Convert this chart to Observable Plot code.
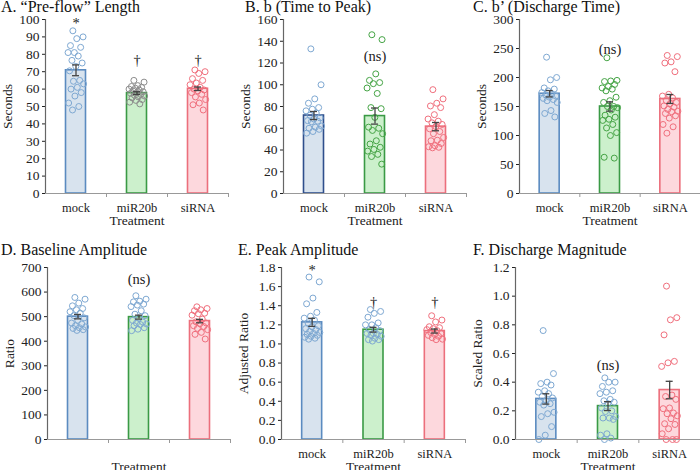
<!DOCTYPE html>
<html><head><meta charset="utf-8">
<script src="https://cdn.jsdelivr.net/npm/d3@7"></script>
<script src="https://cdn.jsdelivr.net/npm/@observablehq/plot@0.6"></script>
<style>
body{margin:0;background:#fff;}
#fig{position:relative;width:700px;height:470px;font-family:"Liberation Serif","Times New Roman",serif;overflow:hidden;}
.panel{position:absolute;width:234px;height:235px;}
.panel svg{position:absolute;left:0;top:0;overflow:visible;}
.title{position:absolute;font-size:16px;white-space:nowrap;line-height:0.8;color:#111;z-index:2;}
#fig svg, #fig svg text{font-family:"Liberation Serif","Times New Roman",serif !important;}
</style></head><body><div id="fig"></div>
<script>
// ---------- categories ----------
const categories = ["mock", "miR20b", "siRNA"];

// ---------- A. "Pre-flow" Length (Seconds) ----------
const aMock = [93.5, 90, 89, 85, 84, 81, 81, 79, 76.5, 75, 73, 70.5, 65, 64.5, 63, 61, 60, 58, 56, 52, 50, 48];
const aMir = [65, 64, 62, 61.5, 61, 60.5, 60, 59.5, 59, 58.5, 58, 57.5, 57, 56.5, 56, 55.5, 55, 54, 53.5, 52.5, 51.5];
const aSi = [71, 70, 69, 66, 65, 63.5, 62.5, 61, 60, 59.5, 59, 58, 57, 55.5, 54, 52, 51, 48];
const aMeans = [70.8, 57.7, 60.2];
const aSE = [3.1, 0.8, 1.0];
const aTicks = [0, 10, 20, 30, 40, 50, 60, 70, 80, 90, 100];
const aNotes = ["*", "†", "†"];
const aNoteY = [97.5, 76.5, 76.5];

// ---------- B. b (Time to Peak) (Seconds) ----------
const bMock = [133, 100, 87, 83, 79, 77.5, 76, 74, 72, 69.5, 68.5, 67, 66.5, 66, 62, 61, 60, 59, 57, 55.5];
const bMir = [146, 141.5, 110, 104, 102, 101, 97, 92, 79, 78, 70, 61, 60, 58, 55, 48.5, 45.5, 42.5, 40.5, 39, 36, 34, 27];
const bSi = [95.5, 87, 83, 80.5, 79, 72.5, 68.5, 66.5, 65, 63.5, 61.5, 59.5, 57, 55, 51.5, 49, 48.5, 46, 44, 43, 42.5, 42];
const bMeans = [71.7, 71.2, 61.5];
const bSE = [3.7, 7.4, 3.8];
const bTicks = [0, 20, 40, 60, 80, 100, 120, 140, 160];
const bNotes = ["", "(ns)", ""];
const bNoteY = [0, 126, 0];

// ---------- C. b' (Discharge Time) (Seconds) ----------
const cMock = [235, 200, 196, 182, 180, 177, 174, 172, 170, 168, 166, 164, 162, 160, 157, 143, 138, 132];
const cMir = [234, 195, 194, 193, 188, 184.5, 182, 180, 177, 166, 160, 157, 150, 150, 148, 144, 135, 131.5, 128, 126, 119, 113, 105, 100, 62.5, 61];
const cSi = [238, 236, 227, 225, 210, 171, 168, 165, 160, 157, 155, 151, 149, 145, 142, 141, 138, 134, 130, 119, 115, 104];
const cMeans = [172, 150, 163];
const cSE = [5.5, 8, 7.7];
const cTicks = [0, 50, 100, 150, 200, 250, 300];
const cNotes = ["", "(ns)", ""];
const cNoteY = [0, 248, 0];

// ---------- D. Baseline Amplitude (Ratio) ----------
const dMock = [578, 571, 555, 544, 533, 528, 520, 514, 504, 495, 485, 474, 470, 463, 458, 455, 452, 447, 444];
const dMir = [585, 571, 563, 560, 551, 547, 541, 524, 510, 504, 493, 485, 478, 474, 470, 468, 463, 455, 449, 443];
const dSi = [540, 533, 528, 524, 514, 512, 506, 490, 479, 474, 471, 463, 460, 452, 447, 436, 428, 409];
const dMeans = [500, 498, 482];
const dSE = [9, 8, 7];
const dTicks = [0, 100, 200, 300, 400, 500, 600, 700];
const dNotes = ["", "(ns)", ""];
const dNoteY = [0, 650, 0];

// ---------- E. Peak Amplitude (Adjusted Ratio) ----------
const eMock = [1.70, 1.65, 1.48, 1.42, 1.33, 1.29, 1.27, 1.25, 1.22, 1.19, 1.18, 1.16, 1.15, 1.13, 1.12, 1.11, 1.10, 1.09, 1.08, 1.07, 1.06, 1.05];
const eMir = [1.36, 1.34, 1.32, 1.28, 1.22, 1.20, 1.20, 1.17, 1.15, 1.14, 1.11, 1.11, 1.10, 1.09, 1.08, 1.06, 1.045, 1.045, 1.03];
const eSi = [1.295, 1.25, 1.23, 1.18, 1.17, 1.16, 1.15, 1.14, 1.12, 1.11, 1.10, 1.09, 1.08, 1.065, 1.05, 1.045];
const eMeans = [1.226, 1.149, 1.135];
const eSE = [0.042, 0.025, 0.021];
const eTicks = [0, 0.2, 0.4, 0.6, 0.8, 1.0, 1.2, 1.4, 1.6, 1.8];
const eNotes = ["*", "†", "†"];
const eNoteY = [1.765, 1.43, 1.43];

// ---------- F. Discharge Magnitude (Scaled Ratio) ----------
const fMock = [0.76, 0.46, 0.40, 0.39, 0.38, 0.34, 0.33, 0.32, 0.30, 0.29, 0.27, 0.26, 0.25, 0.24, 0.19, 0.18, 0.16, 0.09, 0.03, 0.0];
const fMir = [0.43, 0.40, 0.40, 0.37, 0.34, 0.33, 0.32, 0.28, 0.27, 0.26, 0.25, 0.22, 0.20, 0.195, 0.16, 0.15, 0.15, 0.14, 0.04, 0.03, 0.01, 0.0];
const fSi = [1.07, 0.85, 0.835, 0.73, 0.545, 0.535, 0.51, 0.31, 0.30, 0.28, 0.22, 0.215, 0.185, 0.18, 0.165, 0.145, 0.11, 0.105, 0.075, 0.04, 0.0, 0.0, 0.0];
const fMeans = [0.283, 0.233, 0.345];
const fSE = [0.036, 0.031, 0.061];
const fTicks = [0, 0.2, 0.4, 0.6, 0.8, 1.0, 1.2];
const fNotes = ["", "(ns)", ""];
const fNoteY = [0, 0.52, 0];

// ---------- styles ----------
const barFill = ["#d8e3ee", "#ccf0cc", "#fdd8dd"];
const barStroke = ["#5b8bc0", "#3a9a45", "#ec6f7c"];
const mockPt = "#7ea8d2", siPt = "#f06f7d", greenPt = "#45a445", grayPt = "#8c8c8c";

const panels = [
  {title: "A. “Pre-flow” Length", ylabel: "Seconds", groups: [aMock, aMir, aSi], means: aMeans, se: aSE, ticks: aTicks, notes: aNotes, noteY: aNoteY, fmt: d3.format("d"),
   left: 0, top: 0, width: 233, ml: 45, mr: 5, row: 0, tl: 1, ptc: [mockPt, grayPt, siPt], showCats: true},
  {title: "B. b (Time to Peak)", ylabel: "Seconds", groups: [bMock, bMir, bSi], means: bMeans, se: bSE, ticks: bTicks, notes: bNotes, noteY: bNoteY, fmt: d3.format("d"),
   left: 233, top: 0, width: 233, ml: 50, mr: 0, row: 0, tl: 12, ptc: [mockPt, greenPt, siPt], showCats: true, mockStroke: "#2f4f8c"},
  {title: "C. b’ (Discharge Time)", ylabel: "Seconds", groups: [cMock, cMir, cSi], means: cMeans, se: cSE, ticks: cTicks, notes: cNotes, noteY: cNoteY, fmt: d3.format("d"),
   left: 466, top: 0, width: 234, ml: 53, mr: 0, row: 0, tl: 7, ptc: [mockPt, greenPt, siPt], showCats: true},
  {title: "D. Baseline Amplitude", ylabel: "Ratio", groups: [dMock, dMir, dSi], means: dMeans, se: dSE, ticks: dTicks, notes: dNotes, noteY: dNoteY, fmt: d3.format("d"),
   left: 0, top: 235, width: 233, ml: 47, mr: 3, row: 1, tl: 1, ptc: [mockPt, mockPt, siPt], showCats: false},
  {title: "E. Peak Amplitude", ylabel: "Adjusted Ratio", groups: [eMock, eMir, eSi], means: eMeans, se: eSE, ticks: eTicks, notes: eNotes, noteY: eNoteY, fmt: d3.format(".1f"),
   left: 233, top: 235, width: 233, ml: 48, mr: 1, row: 1, tl: 5, ptc: [mockPt, mockPt, siPt], showCats: true},
  {title: "F. Discharge Magnitude", ylabel: "Scaled Ratio", groups: [fMock, fMir, fSi], means: fMeans, se: fSE, ticks: fTicks, notes: fNotes, noteY: fNoteY, fmt: d3.format(".1f"),
   left: 466, top: 235, width: 234, ml: 49, mr: 0, row: 1, tl: 7, ptc: [mockPt, mockPt, siPt], showCats: true}
];

// deterministic spread of the dots across the bar (golden-ratio sequence)
const spread = k => ((k * 0.6180339887 + 0.31) % 1 - 0.5) * 0.27;

const fig = document.getElementById("fig");
for (const p of panels) {
  const bars = categories.map((c, i) => ({i, c, mean: p.means[i], se: p.se[i]}));
  const pts = p.groups.flatMap((arr, i) => arr.map((v, k) => ({i, v, j: spread(k)})));
  const notes = p.notes.map((t, i) => ({i, t, y: p.noteY[i]})).filter(d => d.t);
  const strokes = barStroke.map((s, i) => (i === 0 && p.mockStroke) ? p.mockStroke : s);
  const mt = p.row === 0 ? 19 : 32, mb = p.row === 0 ? 42 : 31;
  const step = (p.width - p.ml - p.mr) / 3;
  const barInset = (step - 20) / 2, capInset = (step - 7) / 2;

  const svg = Plot.plot({
    width: p.width, height: 235,
    marginLeft: p.ml, marginRight: p.mr, marginTop: mt, marginBottom: mb,
    style: {fontFamily: "'Liberation Serif', 'Times New Roman', serif", fontSize: "13px", color: "#222", background: "transparent", overflow: "visible"},
    color: {type: "identity"},
    x: {domain: [0, 3], ticks: [0.5, 1.5, 2.5], tickFormat: t => p.showCats ? categories[Math.floor(t)] : "",
        tickSize: 0, tickPadding: 10, label: "Treatment", labelAnchor: "center", labelOffset: 31, labelArrow: "none"},
    y: {domain: [p.ticks[0], p.ticks[p.ticks.length - 1]], ticks: p.ticks, tickFormat: p.fmt, tickSize: 3, tickPadding: 3,
        label: p.ylabel, labelAnchor: "center", labelOffset: 43, labelArrow: "none"},
    marks: [
      Plot.rectY(bars, {x1: d => d.i, x2: d => d.i + 1, y: "mean", insetLeft: barInset, insetRight: barInset,
        fill: d => barFill[d.i], stroke: d => strokes[d.i], strokeWidth: 1.6}),
      Plot.dot(pts, {x: d => d.i + 0.5 + d.j, y: "v", r: 3, fill: "none", stroke: d => p.ptc[d.i], strokeWidth: 1}),
      Plot.ruleX(bars, {x: d => d.i + 0.5, y1: d => d.mean - d.se, y2: d => d.mean + d.se, stroke: "#444", strokeWidth: 1.3}),
      Plot.ruleY(bars, {x1: d => d.i, x2: d => d.i + 1, y: d => d.mean + d.se, insetLeft: capInset, insetRight: capInset, stroke: "#444", strokeWidth: 1.3}),
      Plot.ruleY(bars, {x1: d => d.i, x2: d => d.i + 1, y: d => d.mean - d.se, insetLeft: capInset, insetRight: capInset, stroke: "#444", strokeWidth: 1.3}),
      Plot.ruleY([p.ticks[0]], {stroke: "#999", strokeWidth: 1.2}),
      Plot.ruleX([0], {stroke: "#666", strokeWidth: 1.2}),
      Plot.ruleX([1, 2, 3], {y1: () => p.ticks[0], y2: () => p.ticks[0], insetBottom: -4, stroke: "#999"}),
      Plot.text(notes, {x: d => d.i + 0.5, y: "y", text: "t", fontSize: 14.5, fill: "#222"})
    ]
  });

  // text sizes: y ticks & axis labels 13.5px, category labels 12.5px, notes 14.5px
  svg.querySelectorAll("text").forEach(el => {
    const s = el.textContent.trim();
    let size = "13.5px";
    if (categories.includes(s)) size = "12.5px";
    else if (p.notes.includes(s)) size = "14.5px";
    el.style.setProperty("font-size", size, "important");
    el.style.setProperty("font-family", "'Liberation Serif', 'Times New Roman', serif", "important");
  });

  const div = document.createElement("div");
  div.className = "panel";
  div.style.left = p.left + "px";
  div.style.top = p.top + "px";
  div.style.width = p.width + "px";
  const t = document.createElement("div");
  t.className = "title";
  t.textContent = p.title;
  t.style.left = p.tl + "px";
  t.style.top = (p.row === 0 ? 1 : 9) + "px";
  div.appendChild(svg);
  div.appendChild(t);
  fig.appendChild(div);
}
</script>
</body></html>
